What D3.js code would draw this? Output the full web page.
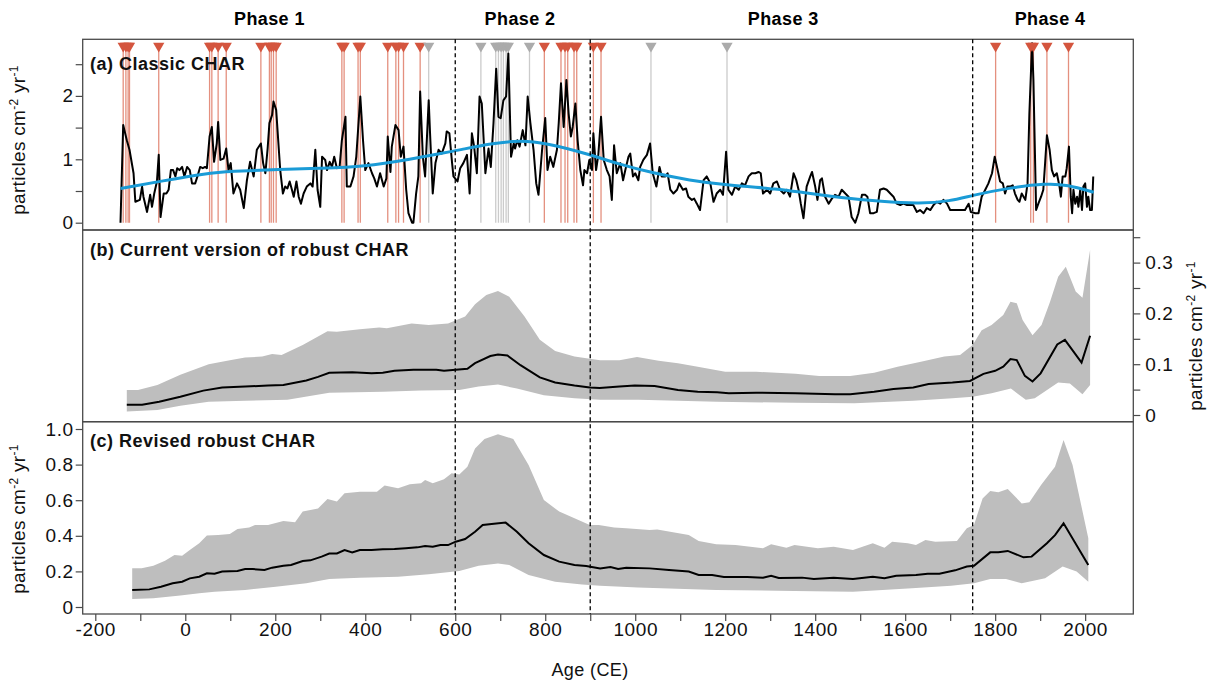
<!DOCTYPE html>
<html>
<head>
<meta charset="utf-8">
<script src="https://cdn.jsdelivr.net/npm/d3@7"></script>
<style>
  body { margin: 0; background: #fff; }
  svg { font-family: "Liberation Sans", Arial, Helvetica, sans-serif; }
</style>
</head>
<body>
<svg id="chart" width="1214" height="683"></svg>
<script>
// ---- data ----
var phaseNames = ["Phase 1", "Phase 2", "Phase 3", "Phase 4"];
var phaseLabelYears = [187, 744, 1329, 1922];
var phaseBounds = [600, 900, 1750];

// (a) classic CHAR, [age CE, particles cm-2 yr-1]
var classicChar = [[-144,0],[-138,1.54],[-130,1.30],[-124,1.15],[-115,0.78],[-111,0.33],[-101,0.36],[-96,0.57],[-93,0.41],[-85,0.17],[-78,0.44],[-74,0.25],[-69,0.46],[-63,0.65],[-59,1.07],[-55,0.09],[-48,0.46],[-42,0.46],[-37,0.52],[-32,0.83],[-27,0.83],[-22,0.73],[-18,0.86],[-13,0.83],[-7,0.88],[-2,0.73],[4,0.88],[10,0.83],[15,0.62],[22,0.62],[27,0.73],[33,0.88],[39,0.86],[44,0.88],[48,0.86],[54,1.36],[59,1.51],[64,0.96],[70,1.25],[73,1.59],[78,0.99],[85,1.01],[91,1.17],[96,0.83],[101,0.94],[107,0.46],[115,0.62],[122,0.52],[130,0.23],[137,0.67],[144,0.96],[152,0.73],[159,1.15],[168,1.25],[173,0.94],[178,0.78],[183,1.17],[187,1.57],[193,1.70],[196,1.91],[202,1.78],[207,1.25],[211,0.83],[217,0.46],[222,0.57],[227,0.54],[232,0.65],[237,0.52],[241,0.41],[247,0.65],[252,0.41],[257,0.30],[263,0.46],[270,0.57],[278,0.62],[283,0.57],[289,1.15],[294,0.52],[300,0.25],[304,1.04],[311,0.99],[315,0.83],[321,0.96],[326,0.88],[331,1.04],[337,0.86],[343,0.88],[348,1.30],[356,1.67],[359,0.57],[367,0.57],[374,0.73],[380,1.04],[389,1.99],[395,1.30],[400,0.83],[407,0.94],[415,0.78],[420,0.70],[426,0.57],[433,0.78],[441,0.57],[447,0.70],[450,1.36],[456,0.80],[459,1.20],[467,1.54],[474,1.46],[479,1.04],[485,1.20],[491,0.52],[496,0.15],[504,0],[507,0],[513,0.46],[518,0.73],[522,2.07],[528,1.04],[533,0.73],[541,1.93],[544,1.41],[550,0.46],[556,0.94],[563,1.15],[570,1.09],[578,1.25],[581,1.44],[587,1.41],[593,0.94],[596,0.73],[605,0.65],[611,0.86],[618,0.94],[626,1.07],[632,0.46],[637,1.41],[642,1.20],[648,0.78],[654,1.99],[659,1.88],[667,0.78],[674,1.17],[679,0.88],[685,1.57],[691,2.43],[696,1.67],[701,1.65],[707,1.93],[713,1.99],[718,2.67],[724,1.04],[730,1.25],[733,1.17],[738,1.30],[743,1.20],[750,1.46],[756,1.22],[761,1.99],[767,1.57],[774,1.15],[780,0.62],[785,0.44],[793,1.15],[800,1.65],[805,0.83],[811,1.04],[818,0.88],[826,1.15],[830,1.57],[835,2.20],[841,1.51],[847,2.25],[852,1.72],[857,1.36],[861,1.51],[867,1.88],[872,1.30],[878,0.83],[884,0.59],[887,0.83],[893,0.78],[898,0.99],[904,0.83],[907,1.41],[913,0.83],[918,1.07],[924,1.67],[930,0.99],[937,0.83],[943,0.73],[948,0.36],[953,1.22],[959,0.78],[967,0.94],[973,0.67],[978,0.83],[985,1.04],[989,1.09],[995,0.73],[1000,0.78],[1007,0.67],[1011,0.88],[1018,0.99],[1026,1.07],[1033,1.25],[1039,0.78],[1047,0.57],[1054,0.88],[1059,0.73],[1067,0.73],[1072,0.78],[1078,0.52],[1085,0.46],[1093,0.52],[1098,0.62],[1106,0.52],[1113,0.54],[1118,0.41],[1126,0.36],[1131,0.38],[1137,0.30],[1144,0.20],[1152,0.67],[1159,0.73],[1167,0.62],[1174,0.33],[1181,0.46],[1189,0.52],[1195,0.44],[1202,1.12],[1207,0.52],[1215,0.44],[1222,0.57],[1230,0.52],[1237,0.62],[1244,0.59],[1252,0.73],[1259,0.78],[1267,0.78],[1274,0.80],[1279,0.78],[1284,0.46],[1293,0.52],[1300,0.46],[1307,0.62],[1315,0.65],[1322,0.52],[1330,0.46],[1337,0.52],[1344,0.41],[1352,0.78],[1358,0.67],[1363,0.52],[1368,0.30],[1374,0.07],[1381,0.57],[1389,0.73],[1393,0.80],[1400,0.57],[1405,0.36],[1411,0.67],[1415,0.70],[1422,0.41],[1430,0.30],[1437,0.38],[1444,0.44],[1452,0.41],[1459,0.52],[1467,0.46],[1474,0.41],[1481,0.09],[1489,0],[1496,0.15],[1504,0.44],[1511,0.44],[1516,0.41],[1522,0.15],[1530,0.15],[1537,0.17],[1544,0.52],[1552,0.54],[1559,0.52],[1567,0.46],[1574,0.41],[1581,0.30],[1589,0.28],[1596,0.30],[1604,0.28],[1618,0.28],[1626,0.17],[1633,0.20],[1641,0.15],[1648,0.23],[1656,0.20],[1663,0.28],[1670,0.33],[1678,0.30],[1685,0.36],[1693,0.30],[1700,0.20],[1707,0.20],[1722,0.20],[1733,0.20],[1741,0.30],[1746,0.17],[1756,0.15],[1763,0.15],[1770,0.41],[1778,0.52],[1785,0.62],[1793,0.78],[1799,1.04],[1804,0.88],[1811,0.65],[1817,0.62],[1822,0.46],[1827,0.57],[1833,0.57],[1839,0.59],[1844,0.46],[1850,0.36],[1854,0.33],[1859,0.46],[1867,0.36],[1872,0.62],[1876,1.72],[1882,2.83],[1885,2.25],[1891,0.20],[1896,0.30],[1902,0.41],[1907,0.52],[1911,0.94],[1915,1.38],[1921,1.15],[1926,0.83],[1931,0.73],[1937,0.78],[1943,0.57],[1946,0.41],[1950,0.73],[1956,0.73],[1959,0.86],[1964,1.20],[1968,0.41],[1971,0.15],[1974,0.52],[1978,0.30],[1982,0.41],[1985,0.25],[1989,0.52],[1993,0.20],[1996,0.57],[2000,0.62],[2004,0.25],[2007,0.41],[2011,0.20],[2015,0.20],[2018,0.73]];

// (a) smoothed background
var classicSmooth = [[-144,0.54],[-50,0.66],[48,0.78],[100,0.81],[211,0.84],[300,0.86],[396,0.88],[507,1.01],[567,1.09],[611,1.15],[680,1.25],[744,1.30],[800,1.26],[893,1.09],[960,0.93],[1041,0.78],[1120,0.67],[1204,0.59],[1322,0.53],[1367,0.48],[1450,0.40],[1550,0.33],[1633,0.30],[1700,0.34],[1748,0.43],[1830,0.55],[1915,0.62],[1960,0.60],[2019,0.48]];

// (a) detected peaks (significant / not significant)
var peaksRed = [-138,-132,-127,-124,-59,54,59,73,91,168,187,191,196,202,348,353,384,389,450,468,474,485,522,798,835,844,850,864,870,907,924,1801,1879,1885,1915,1963];
var peaksGray = [541,657,690,696,702,707,713,718,765,1035,1204];

// (b) current robust CHAR
var robustMean = [[-130,0.020],[-96,0.020],[-58,0.026],[-11,0.036],[40,0.048],[82,0.054],[133,0.056],[184,0.058],[218,0.059],[269,0.068],[295,0.075],[320,0.083],[371,0.084],[414,0.082],[439,0.083],[465,0.087],[507,0.089],[558,0.089],[575,0.087],[601,0.089],[627,0.091],[644,0.102],[678,0.116],[695,0.119],[716,0.117],[745,0.098],[788,0.074],[822,0.064],[865,0.058],[899,0.054],[921,0.053],[965,0.056],[999,0.058],[1043,0.057],[1095,0.049],[1139,0.046],[1182,0.045],[1208,0.043],[1269,0.044],[1356,0.043],[1444,0.041],[1478,0.041],[1531,0.046],[1574,0.051],[1618,0.054],[1652,0.061],[1705,0.064],[1744,0.067],[1774,0.081],[1800,0.087],[1818,0.095],[1834,0.110],[1848,0.108],[1866,0.077],[1883,0.066],[1901,0.082],[1938,0.139],[1955,0.148],[1992,0.103],[2011,0.156]];
var robustUpper = [[-130,0.049],[-105,0.049],[-62,0.059],[-11,0.079],[52,0.100],[99,0.108],[133,0.113],[171,0.115],[193,0.120],[214,0.118],[261,0.138],[316,0.165],[337,0.164],[388,0.169],[431,0.172],[448,0.171],[503,0.180],[541,0.177],[584,0.180],[622,0.194],[644,0.218],[669,0.236],[695,0.244],[720,0.233],[754,0.194],[788,0.148],[822,0.126],[865,0.115],[922,0.108],[965,0.108],[1004,0.114],[1052,0.107],[1095,0.102],[1139,0.095],[1200,0.085],[1269,0.085],[1356,0.081],[1409,0.077],[1478,0.077],[1531,0.083],[1583,0.095],[1635,0.105],[1687,0.115],[1722,0.118],[1750,0.138],[1770,0.167],[1792,0.177],[1818,0.197],[1834,0.223],[1848,0.220],[1861,0.187],[1883,0.157],[1903,0.177],[1922,0.223],[1940,0.272],[1957,0.292],[1979,0.243],[1994,0.231],[2011,0.325]];
var robustLower = [[-130,0.007],[-62,0.010],[-11,0.018],[52,0.026],[133,0.028],[227,0.030],[320,0.044],[439,0.046],[524,0.048],[609,0.049],[652,0.056],[695,0.060],[737,0.052],[797,0.039],[865,0.033],[922,0.030],[1008,0.030],[1182,0.026],[1356,0.024],[1487,0.023],[1618,0.028],[1705,0.033],[1750,0.036],[1792,0.043],[1835,0.052],[1868,0.030],[1888,0.033],[1940,0.064],[1966,0.062],[1994,0.041],[2011,0.059]];

// (c) revised robust CHAR
var revisedMean = [[-118,0.096],[-80,0.099],[-54,0.114],[-28,0.133],[-7,0.142],[10,0.161],[31,0.170],[48,0.189],[65,0.187],[82,0.199],[116,0.202],[133,0.213],[150,0.213],[176,0.208],[193,0.221],[218,0.232],[235,0.236],[261,0.258],[278,0.262],[303,0.283],[320,0.300],[337,0.301],[354,0.320],[371,0.307],[388,0.320],[414,0.320],[439,0.324],[465,0.326],[490,0.330],[516,0.335],[533,0.343],[550,0.339],[567,0.348],[584,0.348],[601,0.367],[622,0.382],[644,0.423],[661,0.461],[686,0.468],[712,0.474],[737,0.423],[763,0.358],[797,0.292],[831,0.255],[865,0.236],[891,0.230],[922,0.217],[945,0.225],[962,0.213],[980,0.221],[1032,0.217],[1075,0.208],[1119,0.199],[1141,0.180],[1171,0.180],[1197,0.169],[1249,0.169],[1284,0.165],[1302,0.176],[1319,0.163],[1371,0.165],[1397,0.157],[1441,0.165],[1484,0.157],[1528,0.170],[1554,0.161],[1580,0.176],[1624,0.180],[1650,0.187],[1676,0.187],[1711,0.206],[1737,0.227],[1753,0.232],[1789,0.307],[1807,0.307],[1828,0.315],[1863,0.279],[1881,0.283],[1915,0.358],[1933,0.404],[1952,0.470],[2007,0.236]];
var revisedUpper = [[-118,0.217],[-97,0.217],[-71,0.232],[-45,0.260],[-24,0.292],[-7,0.288],[10,0.320],[31,0.358],[48,0.401],[73,0.404],[99,0.410],[116,0.438],[142,0.446],[155,0.461],[184,0.461],[218,0.483],[244,0.476],[261,0.536],[295,0.554],[316,0.607],[337,0.592],[354,0.639],[388,0.648],[426,0.648],[443,0.682],[473,0.667],[499,0.689],[524,0.695],[533,0.713],[550,0.695],[575,0.717],[592,0.751],[609,0.745],[627,0.788],[644,0.891],[665,0.944],[695,0.970],[729,0.944],[763,0.798],[797,0.601],[831,0.536],[865,0.498],[899,0.461],[919,0.461],[953,0.446],[980,0.442],[1032,0.433],[1049,0.436],[1119,0.404],[1141,0.371],[1180,0.352],[1223,0.348],[1284,0.330],[1302,0.352],[1336,0.333],[1354,0.348],[1406,0.330],[1441,0.339],[1484,0.320],[1528,0.358],[1554,0.333],[1571,0.367],[1606,0.358],[1624,0.348],[1645,0.376],[1667,0.367],[1715,0.371],[1737,0.442],[1753,0.461],[1772,0.610],[1789,0.652],[1807,0.644],[1828,0.663],[1859,0.582],[1876,0.588],[1902,0.685],[1933,0.788],[1952,0.938],[1972,0.798],[2007,0.386]];
var revisedLower = [[-118,0.045],[-71,0.049],[-11,0.064],[31,0.077],[65,0.086],[133,0.096],[201,0.114],[269,0.133],[320,0.157],[388,0.165],[473,0.170],[541,0.184],[609,0.202],[652,0.232],[695,0.245],[720,0.236],[763,0.180],[822,0.142],[882,0.127],[922,0.120],[1006,0.109],[1180,0.096],[1354,0.090],[1484,0.086],[1615,0.105],[1702,0.120],[1753,0.133],[1789,0.157],[1824,0.157],[1859,0.133],[1911,0.161],[1950,0.227],[1981,0.199],[2007,0.142]];

var ageTicks = d3.range(-200, 2001, 100);
var ticksA = [0, 0.5, 1, 1.5, 2, 2.5];
var ticksB = [0, 0.05, 0.1, 0.15, 0.2, 0.25, 0.3, 0.35];
var ticksC = [0, 0.2, 0.4, 0.6, 0.8, 1.0];

// ---- layout ----
var left = 82.7, right = 1133.3;
var panA = [39.3, 230], panB = [230, 421.7], panC = [421.7, 614];

var svg = d3.select("#chart");

var x = d3.scaleLinear().domain([-228, 2107]).range([left, right]);
var yA = d3.scaleLinear().domain([0, 2.5]).range([222.7, 64.2]);
var yB = d3.scaleLinear().domain([0, 0.35]).range([415, 237.2]);
var yC = d3.scaleLinear().domain([0, 1]).range([607, 429]);

var red = "#d4553e", redLine = "#e4907f", grey = "#ababab", greyLine = "#cbcbcb", band = "#bebebe";

var defs = svg.append("defs");
[["clipA", panA], ["clipB", panB], ["clipC", panC]].forEach(function(c) {
  defs.append("clipPath").attr("id", c[0])
    .append("rect").attr("x", left).attr("y", c[1][0])
    .attr("width", right - left).attr("height", c[1][1] - c[1][0]);
});

// panel (a)
var ga = svg.append("g").attr("clip-path", "url(#clipA)");

ga.selectAll("line.pr").data(peaksRed).enter().append("line")
  .attr("x1", function(d) { return x(d); }).attr("x2", function(d) { return x(d); })
  .attr("y1", 46).attr("y2", yA(0))
  .attr("stroke", redLine).attr("stroke-width", 1.3);
ga.selectAll("line.pg").data(peaksGray).enter().append("line")
  .attr("x1", function(d) { return x(d); }).attr("x2", function(d) { return x(d); })
  .attr("y1", 46).attr("y2", yA(0))
  .attr("stroke", greyLine).attr("stroke-width", 1.3);

var lineA = d3.line().x(function(d) { return x(d[0]); }).y(function(d) { return yA(d[1]); });
ga.append("path").attr("d", lineA(classicChar))
  .attr("fill", "none").attr("stroke", "#000").attr("stroke-width", 2).attr("stroke-linejoin", "round");
ga.append("path").attr("d", lineA.curve(d3.curveBasis)(classicSmooth))
  .attr("fill", "none").attr("stroke", "#1a9bd6").attr("stroke-width", 3);

var tri = d3.symbol().type(d3.symbolTriangle).size(55);
ga.selectAll("path.mr").data(peaksRed).enter().append("path")
  .attr("d", tri).attr("fill", red)
  .attr("transform", function(d) { return "translate(" + x(d) + ",46) rotate(180)"; });
ga.selectAll("path.mg").data(peaksGray).enter().append("path")
  .attr("d", tri).attr("fill", grey)
  .attr("transform", function(d) { return "translate(" + x(d) + ",46) rotate(180)"; });

// panel (b)
var gb = svg.append("g").attr("clip-path", "url(#clipB)");
var ptB = d3.line().x(function(d) { return x(d[0]); }).y(function(d) { return yB(d[1]); });
gb.append("path").attr("d", ptB(robustUpper.concat(robustLower.slice().reverse())) + "Z")
  .attr("fill", band).attr("stroke", "none");
gb.append("path").attr("d", ptB(robustMean))
  .attr("fill", "none").attr("stroke", "#000").attr("stroke-width", 2);

// panel (c)
var gc = svg.append("g").attr("clip-path", "url(#clipC)");
var ptC = d3.line().x(function(d) { return x(d[0]); }).y(function(d) { return yC(d[1]); });
gc.append("path").attr("d", ptC(revisedUpper.concat(revisedLower.slice().reverse())) + "Z")
  .attr("fill", band).attr("stroke", "none");
gc.append("path").attr("d", ptC(revisedMean))
  .attr("fill", "none").attr("stroke", "#000").attr("stroke-width", 2);

// frames
[panA, panB, panC].forEach(function(p) {
  svg.append("rect").attr("x", left).attr("y", p[0])
    .attr("width", right - left).attr("height", p[1] - p[0])
    .attr("fill", "none").attr("stroke", "#4a4a4a").attr("stroke-width", 1.3);
});

// phase boundaries
svg.selectAll("line.phase").data(phaseBounds).enter().append("line")
  .attr("x1", function(d) { return x(d); }).attr("x2", function(d) { return x(d); })
  .attr("y1", panA[0]).attr("y2", panC[1])
  .attr("stroke", "#000").attr("stroke-width", 1.3).attr("stroke-dasharray", "4,3");

svg.selectAll("text.phase").data(phaseNames).enter().append("text")
  .attr("x", function(d, i) { return x(phaseLabelYears[i]); }).attr("y", 25)
  .attr("text-anchor", "middle").attr("font-weight", "bold").attr("font-size", 18)
  .attr("letter-spacing", "0.4px").text(function(d) { return d; });

// axes
function styleAxis(g) {
  g.attr("font-family", null).attr("font-size", null);
  g.select(".domain").remove();
  g.selectAll(".tick line").attr("stroke", "#4a4a4a").attr("stroke-width", 1.2);
  g.selectAll(".tick text").attr("fill", "#111").attr("font-size", 19).attr("letter-spacing", "0.6px");
}
var fmt1 = function(d) { return d === 0 ? "0" : d.toFixed(1); };

svg.append("g").attr("transform", "translate(" + left + ",0)")
  .call(d3.axisLeft(yA).tickValues(ticksA).tickSize(7).tickPadding(2)
    .tickFormat(function(d) { return Number.isInteger(d) ? String(d) : ""; }))
  .call(styleAxis);

svg.append("g").attr("transform", "translate(" + right + ",0)")
  .call(d3.axisRight(yB).tickValues(ticksB).tickSize(7).tickPadding(5)
    .tickFormat(function(d) { return Math.round(d * 100) % 10 === 0 ? fmt1(d) : ""; }))
  .call(styleAxis);

svg.append("g").attr("transform", "translate(" + left + ",0)")
  .call(d3.axisLeft(yC).tickValues(ticksC).tickSize(7).tickPadding(2).tickFormat(fmt1))
  .call(styleAxis);

svg.append("g").attr("transform", "translate(0," + panC[1] + ")")
  .call(d3.axisBottom(x).tickValues(ageTicks).tickSize(7).tickPadding(2)
    .tickFormat(function(d) { return d % 200 === 0 ? String(d) : ""; }))
  .call(styleAxis);

// panel titles
var titles = [["(a) Classic CHAR", 70], ["(b) Current version of robust CHAR", 256], ["(c) Revised robust CHAR", 447]];
svg.selectAll("text.ptitle").data(titles).enter().append("text")
  .attr("x", 90).attr("y", function(d) { return d[1]; })
  .attr("font-weight", "bold").attr("font-size", 18).attr("letter-spacing", "0.5px")
  .attr("fill", "#111").text(function(d) { return d[0]; });

// unit labels
function unitLabel(tx, ty) {
  var t = svg.append("text").attr("transform", "translate(" + tx + "," + ty + ") rotate(-90)")
    .attr("text-anchor", "middle").attr("font-size", 19).attr("letter-spacing", "0.3px").attr("fill", "#111");
  t.append("tspan").text("particles cm");
  t.append("tspan").attr("dy", -7).attr("font-size", 12).text("-2");
  t.append("tspan").attr("dy", 7).text(" yr");
  t.append("tspan").attr("dy", -7).attr("font-size", 12).text("-1");
}
unitLabel(25, 140);
unitLabel(25, 519);
unitLabel(1202, 336);

svg.append("text").attr("x", 590).attr("y", 676).attr("text-anchor", "middle")
  .attr("font-size", 18).attr("letter-spacing", "0.4px").attr("fill", "#111").text("Age (CE)");
</script>
</body>
</html>
